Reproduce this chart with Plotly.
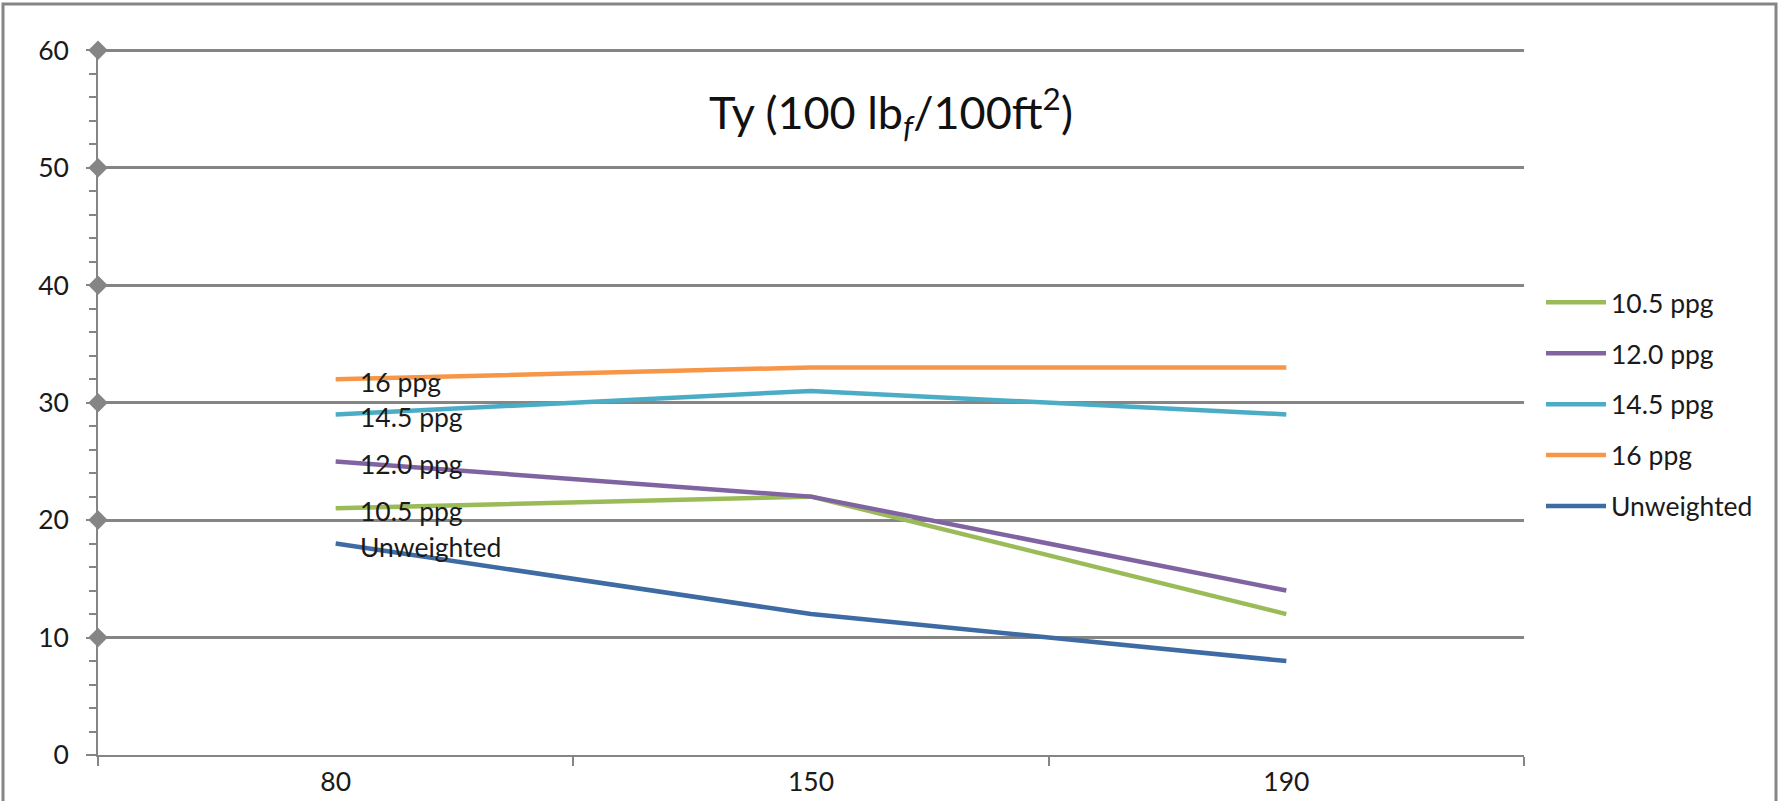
import plotly.graph_objects as go

# ---- data ----
categories = ["80", "150", "190"]
series_names = ["10.5 ppg", "12.0 ppg", "14.5 ppg", "16 ppg", "Unweighted"]
values_10_5 = [21, 22, 12]
values_12_0 = [25, 22, 14]
values_14_5 = [29, 31, 29]
values_16 = [32, 33, 33]
values_unweighted = [18, 12, 8]
series_colors = ["#9BBB59", "#8064A2", "#4BACC6", "#F79646", "#3E6BA3"]
y_tick_values = [0, 10, 20, 30, 40, 50, 60]
diamond_levels = [10, 20, 30, 40, 50, 60]
title_text = "Ty (100 lb<sub><i>f</i></sub>/100ft<sup>2</sup>)"

series_values = [values_10_5, values_12_0, values_14_5, values_16, values_unweighted]

FONT = "Lato"
GRAY = "#858585"
TXT = "#1a1a1a"
FS = 26.5
W, H = 1785, 801
L, R, T, B = 98, 261, 48, 46
PW = W - L - R
PH = H - T - B

fig = go.Figure()

for i, (name, vals, col) in enumerate(zip(series_names, series_values, series_colors)):
    fig.add_trace(go.Scatter(
        x=categories, y=vals, name=name, mode="lines",
        line=dict(color=col, width=4.5),
        legendgroup=f"g{i}", hoverinfo="x+y+name",
    ))

# diamond markers on the value axis at major gridlines
fig.add_trace(go.Scatter(
    x=[0] * len(diamond_levels), y=diamond_levels, xaxis="x2", mode="markers",
    marker=dict(symbol="diamond", size=15, color=GRAY),
    cliponaxis=False, showlegend=False, hoverinfo="skip",
))

# data labels at the first category (category index 0)
first_idx = 0
for name, vals in zip(series_names, series_values):
    fig.add_annotation(
        x=first_idx, y=vals[first_idx], xref="x", yref="y",
        text=name, showarrow=False,
        xanchor="left", yanchor="middle", xshift=22, yshift=-3,
        font=dict(family=FONT, size=FS, color=TXT),
    )

# outer chart border
fig.add_shape(
    type="rect", xref="paper", yref="paper",
    x0=(3 - L) / PW, x1=(1776 - L) / PW,
    y0=-0.2, y1=(H - B - 4) / PH,
    line=dict(color=GRAY, width=3), fillcolor="rgba(0,0,0,0)", layer="below",
)

fig.update_layout(
    width=W, height=H, autosize=False,
    margin=dict(l=L, r=R, t=T, b=B, pad=0, autoexpand=False),
    paper_bgcolor="white", plot_bgcolor="white",
    font=dict(family=FONT, size=FS, color=TXT),
    title=dict(
        text=title_text, xref="paper", x=(891 - L) / PW, xanchor="center",
        yref="container", y=1 - 113 / H, yanchor="middle",
        font=dict(family=FONT, size=45, color="#111111"),
        automargin=False,
    ),
    xaxis=dict(
        type="category", range=[-0.5, 2.5], tickson="boundaries",
        ticks="outside", ticklen=9, tickwidth=1.5, tickcolor=GRAY,
        showline=True, linecolor=GRAY, linewidth=1.5,
        showgrid=False, zeroline=False, automargin=False,
        tickfont=dict(family=FONT, size=FS, color=TXT),
        ticklabelstandoff=2,
    ),
    xaxis2=dict(overlaying="x", range=[0, 1], visible=False, fixedrange=True),
    yaxis=dict(
        range=[0, 60.2], tickvals=y_tick_values,
        ticks="outside", ticklen=10, tickwidth=1.5, tickcolor=GRAY,
        showline=True, linecolor=GRAY, linewidth=1.5,
        showgrid=True, gridcolor=GRAY, gridwidth=3,
        zeroline=False, automargin=False,
        minor=dict(dtick=2, ticks="outside", ticklen=7, tickwidth=1.5,
                   tickcolor=GRAY, showgrid=False),
        tickfont=dict(family=FONT, size=FS, color=TXT),
        ticklabelstandoff=12,
    ),
    legend=dict(
        x=(1541 - L) / PW, xanchor="left", xref="paper",
        y=(H - B - 278.5) / PH, yanchor="top", yref="paper",
        font=dict(family=FONT, size=FS, color=TXT),
        bgcolor="rgba(0,0,0,0)", borderwidth=0,
        itemwidth=60, tracegroupgap=13.5, traceorder="grouped",
    ),
    showlegend=True,
)

fig.write_html("out.html")
